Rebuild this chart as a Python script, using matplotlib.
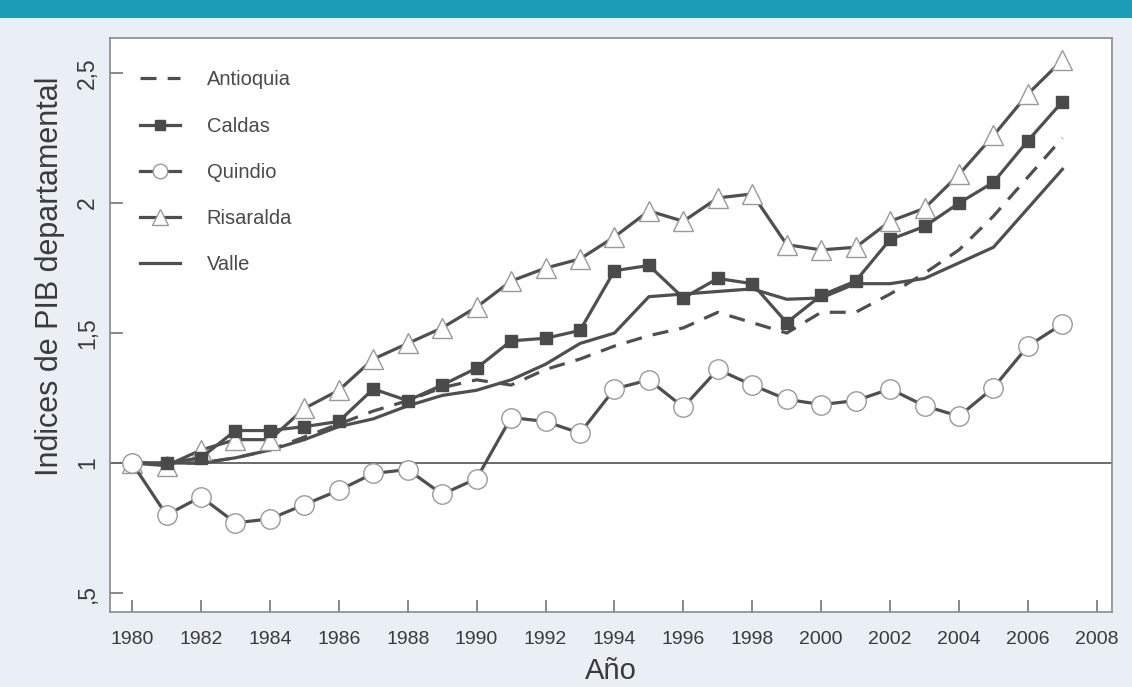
import matplotlib
matplotlib.use("Agg")
import matplotlib.pyplot as plt
from matplotlib.patches import Rectangle

years = list(range(1980, 2008))

antioquia = [1.00, 1.00, 1.00, 1.02, 1.05, 1.10, 1.15, 1.20, 1.24, 1.29, 1.32, 1.30,
             1.36, 1.40, 1.45, 1.49, 1.52, 1.58, 1.54, 1.50, 1.58, 1.58, 1.65, 1.73,
             1.82, 1.95, 2.10, 2.25]
caldas = [1.00, 1.00, 1.02, 1.125, 1.125, 1.14, 1.16, 1.285, 1.24, 1.30, 1.365, 1.47,
          1.48, 1.51, 1.74, 1.76, 1.635, 1.71, 1.69, 1.54, 1.645, 1.70, 1.86, 1.91,
          2.00, 2.08, 2.24, 2.39]
quindio = [1.00, 0.80, 0.87, 0.77, 0.785, 0.84, 0.895, 0.96, 0.975, 0.88, 0.94, 1.175,
           1.16, 1.115, 1.285, 1.32, 1.215, 1.36, 1.30, 1.245, 1.225, 1.24, 1.285, 1.22,
           1.18, 1.29, 1.45, 1.535]
risaralda = [1.00, 0.99, 1.05, 1.09, 1.09, 1.21, 1.28, 1.40, 1.46, 1.52, 1.60, 1.70,
             1.75, 1.785, 1.87, 1.97, 1.93, 2.02, 2.035, 1.84, 1.82, 1.83, 1.93, 1.98,
             2.11, 2.26, 2.42, 2.55]
valle = [1.00, 1.00, 1.00, 1.02, 1.05, 1.09, 1.14, 1.17, 1.22, 1.26, 1.28, 1.32,
         1.38, 1.46, 1.50, 1.64, 1.65, 1.66, 1.67, 1.63, 1.635, 1.69, 1.69, 1.71,
         1.77, 1.83, 1.98, 2.13]

x_ticks = list(range(1980, 2009, 2))
y_ticks = [0.5, 1.0, 1.5, 2.0, 2.5]
y_tick_labels = [",5", "1", "1,5", "2", "2,5"]

plt.rcParams['font.family'] = ['Liberation Sans', 'DejaVu Sans']

fig = plt.figure(figsize=(11.32, 6.87), dpi=100)
fig.patch.set_facecolor('#e9eff4')
fig.add_artist(Rectangle((0, 1 - 18 / 687), 1, 18 / 687, transform=fig.transFigure,
                         facecolor='#1c9cb5', edgecolor='none', zorder=0))

ax = fig.add_axes([110 / 1132, 1 - 612 / 687, (1112 - 110) / 1132, (612 - 38) / 687])
ax.set_facecolor('white')

line_col = '#4f4f4f'
lw = 2.3

ax.axhline(1.0, color='#6a6a6a', lw=1.4, zorder=1)

ax.plot(years, valle, color=line_col, lw=lw, label='Valle', zorder=2)
ax.plot(years, antioquia, color=line_col, lw=lw, ls=(0, (5, 3.5)), label='Antioquia', zorder=2)
ax.plot(years, risaralda, color=line_col, lw=lw, marker='^', markersize=15,
        markerfacecolor='white', markeredgecolor='#9a9a9a', markeredgewidth=1.0,
        label='Risaralda', zorder=3)
ax.plot(years, caldas, color=line_col, lw=lw, marker='s', markersize=9,
        markerfacecolor='#4a4a4a', markeredgecolor='#4a4a4a',
        label='Caldas', zorder=4)
ax.plot(years, quindio, color=line_col, lw=lw, marker='o', markersize=14,
        markerfacecolor='white', markeredgecolor='#9a9a9a', markeredgewidth=1.0,
        label='Quindio', zorder=5)

ax.set_xlim(1979.36, 2008.44)
ax.set_ylim(0.427, 2.635)
ax.set_xticks(x_ticks)
ax.set_xticklabels([str(t) for t in x_ticks])
ax.set_yticks(y_ticks)
ax.set_yticklabels(y_tick_labels, rotation=90, va='center')

ax.tick_params(axis='x', direction='in', length=9, width=1.1, color='#6a6a6a',
               labelsize=14, labelcolor='#3a3a3a', pad=14)
ax.tick_params(axis='y', direction='in', length=9, width=1.1, color='#6a6a6a',
               labelsize=16.5, labelcolor='#3a3a3a', pad=8)
for s in ax.spines.values():
    s.set_color('#8a8a8a')
    s.set_linewidth(1.2)

ax.set_xlabel('Año', fontsize=21, color='#3a3a3a', labelpad=6)
ax.set_ylabel('Indices de PIB departamental', fontsize=22, color='#3a3a3a')
ax.yaxis.set_label_coords(-0.045, 0.584)

h, l = ax.get_legend_handles_labels()
order = ['Antioquia', 'Caldas', 'Quindio', 'Risaralda', 'Valle']
hh = [h[l.index(n)] for n in order]
leg = ax.legend(hh, order, loc='upper left', bbox_to_anchor=(0.012, 0.975), frameon=False,
                fontsize=14.5, labelcolor='#4a4a4a', handlelength=2.0, handletextpad=1.3,
                labelspacing=1.35, markerscale=0.75)

fig.savefig('out.png', dpi=100, facecolor=fig.get_facecolor())
